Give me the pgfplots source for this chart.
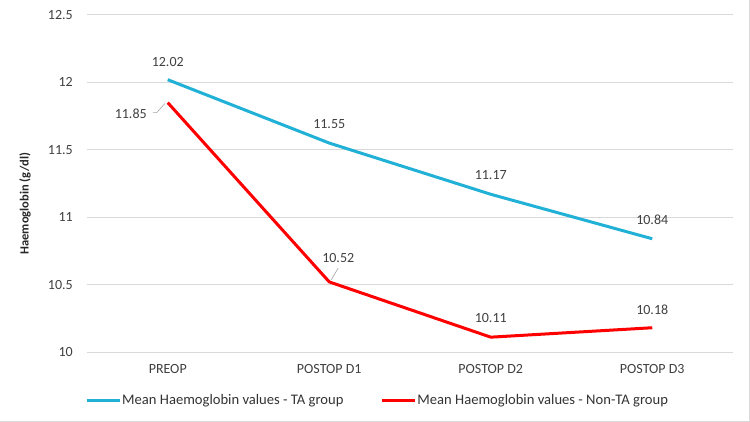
\documentclass[border=0pt]{standalone}
\usepackage{fontspec}
\setmainfont{Carlito}
\usepackage{pgfplots}
\pgfplotsset{compat=1.18}

\definecolor{tablue}{RGB}{33,177,214}
\definecolor{nonred}{RGB}{255,0,0}
\definecolor{txtgray}{RGB}{64,64,64}
\definecolor{gridgray}{RGB}{217,217,217}
\definecolor{leadergray}{RGB}{166,166,166}

\newcommand{\lbl}{\fontsize{14bp}{16bp}\selectfont}

\begin{document}
\begin{tikzpicture}
\path[use as bounding box] (0,0) rectangle (750bp,422bp);
\draw[gridgray, line width=0.8bp] (0,0.6bp) -- (749.2bp,0.6bp) -- (749.2bp,422bp);
\begin{axis}[
  at={(87bp,70bp)}, anchor=south west,
  scale only axis, width=646bp, height=337bp,
  xmin=-0.5, xmax=3.5, ymin=10, ymax=12.5,
  xtick={0,1,2,3},
  xticklabels={PREOP,POSTOP D1,POSTOP D2,POSTOP D3},
  ytick={10,10.5,11,11.5,12,12.5},
  yticklabels={10,10.5,11,11.5,12,12.5},
  axis line style={draw=none},
  major tick length=0pt,
  ymajorgrids, grid style={gridgray, line width=1bp},
  ticklabel style={font=\lbl, text=txtgray, inner sep=0pt},
  yticklabel style={anchor=east, xshift=-14bp},
  xticklabel style={anchor=north, yshift=-12bp},
  every axis y label/.style={at={(axis description cs:0,0.44)}, xshift=-62bp,
    rotate=90, anchor=center, font=\fontsize{12.5bp}{15bp}\selectfont\bfseries,
    text=black!85},
  ylabel={Haemoglobin (g/dl)},
  legend columns=2,
  legend style={at={(axis description cs:0,0)}, anchor=west, yshift=-48bp,
    xshift=-2bp, draw=none, fill=none, inner sep=0pt,
    font=\fontsize{14.6bp}{16bp}\selectfont, text=black!80,
    /tikz/every even column/.append style={column sep=36bp},
    nodes={inner sep=1bp}},
  legend cell align=left,
  legend image code/.code={\draw[#1, line width=3bp] (0bp,0bp) -- (33bp,0bp);},
  clip=false,
]
% TA group
\addplot[tablue, line width=3bp] coordinates {(0,12.02) (1,11.55) (2,11.17) (3,10.84)};
\addlegendentry{Mean Haemoglobin values - TA group}
% Non-TA group
\addplot[nonred, line width=3bp] coordinates {(0,11.85) (1,10.52) (2,10.11) (3,10.18)};
\addlegendentry{Mean Haemoglobin values - Non-TA group}

% value labels
\begin{scope}[every node/.style={font=\lbl, text=txtgray, inner sep=0pt}]
\node at ([yshift=18bp]axis cs:0,12.02) {12.02};
\node at ([yshift=19bp]axis cs:1,11.55) {11.55};
\node at ([yshift=19bp]axis cs:2,11.17) {11.17};
\node at ([yshift=19bp]axis cs:3,10.84) {10.84};
\node at ([xshift=-37bp,yshift=-11bp]axis cs:0,11.85) {11.85};
\node at ([xshift=9bp,yshift=24bp]axis cs:1,10.52) {10.52};
\node at ([yshift=19bp]axis cs:2,10.11) {10.11};
\node at ([yshift=18bp]axis cs:3,10.18) {10.18};
\end{scope}
\draw[leadergray, line width=0.6bp] ([xshift=-15bp,yshift=-10bp]axis cs:0,11.85)
  -- ([xshift=-11bp,yshift=-10bp]axis cs:0,11.85) -- ([xshift=-3bp,yshift=-1bp]axis cs:0,11.85);
\draw[leadergray, line width=0.6bp] ([xshift=9bp,yshift=14bp]axis cs:1,10.52)
  -- ([xshift=2bp,yshift=2bp]axis cs:1,10.52);
\end{axis}
\end{tikzpicture}
\end{document}
